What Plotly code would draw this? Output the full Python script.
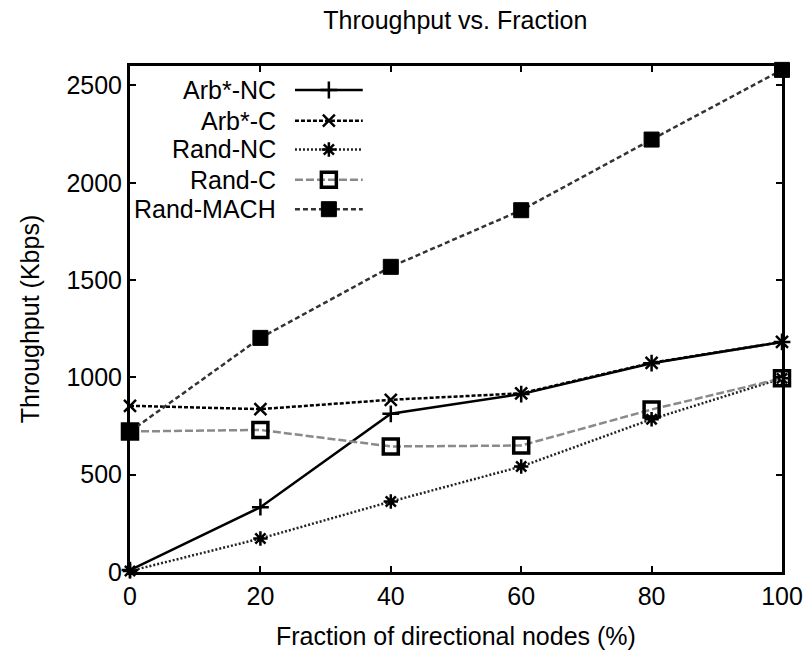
import plotly.graph_objects as go

x_vals = [0, 20, 40, 60, 80, 100]
arb_nc = [10, 333, 813, 914, 1073, 1182]
arb_c = [854, 837, 885, 918, 1075, 1182]
rand_nc = [5, 172, 362, 542, 785, 995]
rand_c = [722, 730, 645, 650, 835, 995]
rand_mach = [722, 1203, 1568, 1859, 2222, 2580]

names = ["Arb*-NC", "Arb*-C", "Rand-NC", "Rand-C", "Rand-MACH"]
series = [arb_nc, arb_c, rand_nc, rand_c, rand_mach]

x_ticks = [0, 20, 40, 60, 80, 100]
y_ticks = [0, 500, 1000, 1500, 2000, 2500]

FONT = "Liberation Sans, Arial, Helvetica, sans-serif"
FS = 25

styles = [
    dict(color="#000000", dash="solid", width=2.5, symbol="cross-thin", msize=12, mlw=2.5, mcolor="#000"),
    dict(color="#000000", dash="4px,2px", width=2.5, symbol="x-thin", msize=12, mlw=2.5, mcolor="#000"),
    dict(color="#222222", dash="2px,2px", width=2.5, symbol="asterisk", msize=12, mlw=2.5, mcolor="#000"),
    dict(color="#8a8a8a", dash="8px,3px", width=2.5, symbol="square-open", msize=15, mlw=3.5, mcolor="#000"),
    dict(color="#333333", dash="5px,3px", width=2.5, symbol="square", msize=15, mlw=1, mcolor="#000"),
]

fig = go.Figure()
for name, ys, st in zip(names, series, styles):
    fig.add_trace(go.Scatter(
        x=x_vals, y=ys, mode="lines+markers", name=name, showlegend=False,
        line=dict(color=st["color"], dash=st["dash"], width=st["width"]),
        marker=dict(symbol=st["symbol"], size=st["msize"], color=st["mcolor"],
                    line=dict(width=st["mlw"], color=st["mcolor"])),
        cliponaxis=False,
    ))

# custom legend (text left of sample, gnuplot style) drawn on an overlay axis
leg_x = [0.253, 0.305, 0.357]
leg_rows = [0.9526, 0.892, 0.835, 0.775, 0.717]
for name, st, yr in zip(names, styles, leg_rows):
    fig.add_trace(go.Scatter(
        x=[leg_x[0], leg_x[2]], y=[yr, yr], xaxis="x2", yaxis="y2", mode="lines", showlegend=False,
        line=dict(color=st["color"], dash=st["dash"], width=st["width"]),
        hoverinfo="skip",
    ))
    fig.add_trace(go.Scatter(
        x=[leg_x[1]], y=[yr], xaxis="x2", yaxis="y2", mode="markers", showlegend=False,
        marker=dict(symbol=st["symbol"], size=st["msize"], color=st["mcolor"],
                    line=dict(width=st["mlw"], color=st["mcolor"])),
        hoverinfo="skip",
    ))
    fig.add_annotation(x=0.227, y=yr, xref="x2", yref="y2", text=name, showarrow=False,
                       xanchor="right", yanchor="middle",
                       font=dict(family=FONT, size=FS, color="#000"))

# axis titles
fig.add_annotation(x=0.5, y=-0.127, xref="paper", yref="paper", text="Fraction of directional nodes (%)",
                   showarrow=False, xanchor="center", yanchor="middle",
                   font=dict(family=FONT, size=FS, color="#000"))
fig.add_annotation(x=-0.153, y=0.5, xref="paper", yref="paper", text="Throughput (Kbps)",
                   showarrow=False, xanchor="center", yanchor="middle", textangle=-90,
                   font=dict(family=FONT, size=FS, color="#000"))

axis_common = dict(showline=True, linecolor="#000", linewidth=3, mirror="ticks",
                   ticks="inside", ticklen=6, tickwidth=2, tickcolor="#000",
                   showgrid=False, zeroline=False, automargin=False,
                   tickfont=dict(family=FONT, size=FS, color="#000"))

fig.update_layout(
    width=803, height=666,
    margin=dict(l=130, r=21, t=66, b=94),
    paper_bgcolor="white", plot_bgcolor="white",
    title=dict(text="Throughput vs. Fraction", x=0.567, xanchor="center", y=0.970, yanchor="middle",
               font=dict(family=FONT, size=FS, color="#000")),
    xaxis=dict(range=[0, 100], tickvals=x_ticks, ticktext=[str(v) for v in x_ticks], **axis_common),
    yaxis=dict(range=[0, 2600], tickvals=y_ticks, ticktext=[str(v) for v in y_ticks], **axis_common),
    xaxis2=dict(range=[0, 1], overlaying="x", visible=False, fixedrange=True),
    yaxis2=dict(range=[0, 1], overlaying="y", visible=False, fixedrange=True),
)

fig.write_html("out.html")
